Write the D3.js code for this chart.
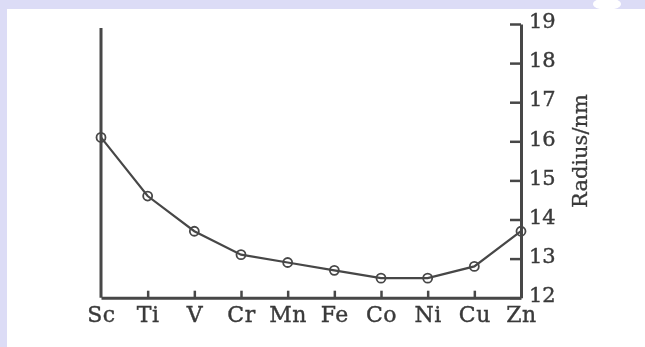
<!DOCTYPE html>
<html>
<head>
<meta charset="utf-8">
<script src="https://cdn.jsdelivr.net/npm/d3@7"></script>
<style>
  html, body { margin: 0; padding: 0; background: #dcdcf6; }
  #c svg { display: block; }
</style>
</head>
<body>
<div id="c"></div>
<script>
var elements = ["Sc", "Ti", "V", "Cr", "Mn", "Fe", "Co", "Ni", "Cu", "Zn"];
var radius = [16.1, 14.6, 13.7, 13.1, 12.9, 12.7, 12.5, 12.5, 12.8, 13.7];
var y_ticks = [12, 13, 14, 15, 16, 17, 18, 19];
var y_title = "Radius/nm";

var width = 645;
var height = 347;
var ink = "#474747";

var svg = d3.select("#c").append("svg")
	.attr("width", width)
	.attr("height", height);

// page background: lavender frame, white sheet
svg.append("rect")
	.attr("width", width).attr("height", height)
	.attr("fill", "#dcdcf6");
svg.append("rect")
	.attr("x", 7).attr("y", 9)
	.attr("width", width - 7).attr("height", height - 9)
	.attr("fill", "#fff");
svg.append("ellipse")
	.attr("cx", 607).attr("cy", 4)
	.attr("rx", 14).attr("ry", 6)
	.attr("fill", "#fff");

var chart = svg.append("g").style("filter", "blur(0.45px)");

var x_scale = d3.scalePoint()
	.domain(elements)
	.range([101, 521]);

var y_scale = d3.scaleLinear()
	.domain([12, 19])
	.range([297.7, 24]);

// left frame line
chart.append("line")
	.attr("x1", x_scale("Sc")).attr("x2", x_scale("Sc"))
	.attr("y1", y_scale(12)).attr("y2", y_scale(19) + 4)
	.attr("stroke", ink)
	.attr("stroke-width", 3);

var x_axis = chart.append("g")
	.attr("transform", "translate(0," + y_scale(12) + ")")
	.call(d3.axisBottom(x_scale).tickSize(-7).tickSizeOuter(0).tickPadding(9));

var y_axis = chart.append("g")
	.attr("transform", "translate(" + x_scale("Zn") + ",0)")
	.call(d3.axisRight(y_scale).tickValues(y_ticks).tickFormat(d3.format("d"))
		.tickSize(-11).tickSizeOuter(0).tickPadding(8));

[x_axis, y_axis].forEach(function(a) {
	a.attr("font-family", null).attr("font-size", null);
	a.select(".domain").attr("stroke", ink).attr("stroke-width", 3);
	a.selectAll(".tick line").attr("stroke", ink).attr("stroke-width", 2.5);
	a.selectAll("text")
		.attr("fill", "#3a3a3a")
		.attr("stroke", "#3a3a3a")
		.attr("stroke-width", 0.4)
		.style("font-family", "'DejaVu Serif', serif")
		.style("font-size", "21px");
});

// labels sit slightly above their ticks in the original
y_axis.selectAll("text").attr("dy", "0.18em");

x_axis.selectAll(".tick").filter(function(d) { return d === "Sc" || d === "Zn"; }).select("line").remove();
x_axis.selectAll("text")
	.style("font-size", "22px")
	.style("letter-spacing", "0.5px");

chart.append("text")
	.attr("transform", "translate(587,151) rotate(-90)")
	.attr("text-anchor", "middle")
	.attr("fill", "#3a3a3a")
	.attr("stroke", "#3a3a3a")
	.attr("stroke-width", 0.3)
	.style("font-family", "'DejaVu Serif', serif")
	.style("font-size", "21px")
	.text(y_title);

var line = d3.line()
	.x(function(d, i) { return x_scale(elements[i]); })
	.y(function(d) { return y_scale(d); });

chart.append("path")
	.datum(radius)
	.attr("d", line)
	.attr("fill", "none")
	.attr("stroke", ink)
	.attr("stroke-width", 2.2);

chart.selectAll("circle.pt")
	.data(radius)
	.enter()
	.append("circle")
	.attr("class", "pt")
	.attr("cx", function(d, i) { return x_scale(elements[i]); })
	.attr("cy", function(d) { return y_scale(d); })
	.attr("r", 4.5)
	.attr("fill", "none")
	.attr("stroke", ink)
	.attr("stroke-width", 1.8);
</script>
</body>
</html>
